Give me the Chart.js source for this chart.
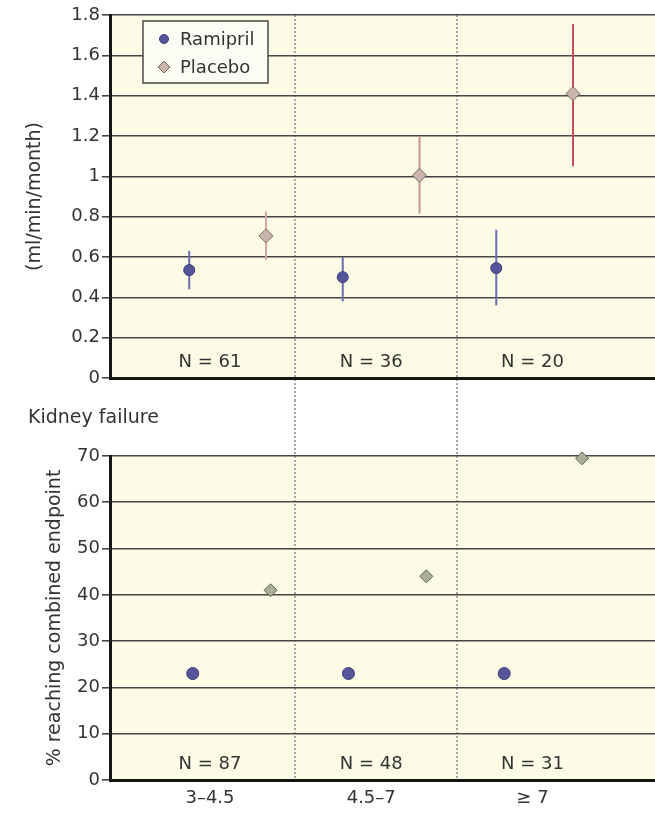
<!DOCTYPE html>
<html>
<head>
<meta charset="utf-8">
<script src="https://cdn.jsdelivr.net/npm/chart.js@4.4.0/dist/chart.umd.min.js"></script>
<style>
  html, body { margin: 0; padding: 0; background: #ffffff; }
  #wrap { position: relative; width: 655px; height: 820px; overflow: hidden; }
  #c1 { position: absolute; left: 0; top: 0; }
  #c2 { position: absolute; left: 0; top: 400px; }
</style>
</head>
<body>
<div id="wrap">
  <canvas id="c1" width="655" height="400"></canvas>
  <canvas id="c2" width="655" height="420"></canvas>
</div>
<script>
// ---------------- data ----------------
const categories = ['3\u20134.5', '4.5\u20137', '\u2265 7'];
const seriesNames = ['Ramipril', 'Placebo'];

const slopeTicks = [0, 0.2, 0.4, 0.6, 0.8, 1, 1.2, 1.4, 1.6, 1.8];
const pctTicks = [0, 10, 20, 30, 40, 50, 60, 70];

// top panel: GFR decline (ml/min/month), mean and error bar limits
const ramiprilSlope = [0.535, 0.50, 0.545];
const ramiprilSlopeLow = [0.44, 0.38, 0.36];
const ramiprilSlopeHigh = [0.63, 0.60, 0.735];
const placeboSlope = [0.705, 1.005, 1.41];
const placeboSlopeLow = [0.585, 0.815, 1.05];
const placeboSlopeHigh = [0.825, 1.195, 1.755];
const slopeN = [61, 36, 20];

// bottom panel: % reaching combined endpoint
const ramiprilPct = [23, 23, 23];
const placeboPct = [41, 44, 69.5];
const pctN = [87, 48, 31];

const titleTop = '(ml/min/month)';
const titleBottom = '% reaching combined endpoint';
const panelLabel = 'Kidney failure';

// category boundaries (between groups) on the category axis
const groupBoundaries = [1.53, 2.53];

// ---------------- styling ----------------
const FONT = 'DejaVu Sans';
Chart.defaults.font.family = FONT;
Chart.defaults.font.size = 18;
Chart.defaults.color = '#333333';

const TEXT = '#333333';
const GRID = '#454545';
const AXIS = '#151515';
const PLOT_BG = '#fbfbe6';

const bgPlugin = {
  id: 'bgPlugin',
  beforeDraw(chart, args, opts) {
    const { ctx, chartArea: a } = chart;
    ctx.save();
    ctx.fillStyle = PLOT_BG;
    ctx.fillRect(a.left, a.top, a.right - a.left, a.bottom - a.top);
    // dotted group dividers
    const xs = chart.scales.x;
    ctx.strokeStyle = '#a8a8a8';
    ctx.lineWidth = 2;
    ctx.setLineDash([2, 2]);
    const y0 = opts.fromTop ? 0 : a.top;
    const y1 = opts.fromTop ? a.bottom : chart.height;
    groupBoundaries.forEach(b => {
      const x = Math.round(xs.getPixelForValue(b));
      ctx.beginPath();
      ctx.moveTo(x, y0);
      ctx.lineTo(x, y1);
      ctx.stroke();
    });
    ctx.restore();
  }
};

const errorBars = {
  id: 'errorBars',
  beforeDatasetsDraw(chart) {
    const ctx = chart.ctx;
    const ys = chart.scales.y;
    chart.data.datasets.forEach(ds => {
      if (!ds.errLow) return;
      const xs = chart.scales[ds.xAxisID];
      ctx.save();
      ctx.lineWidth = 2;
      ds.data.forEach((p, i) => {
        const x = xs.getPixelForValue(p.x);
        ctx.strokeStyle = Array.isArray(ds.errColor) ? ds.errColor[i] : ds.errColor;
        ctx.beginPath();
        ctx.moveTo(x, ys.getPixelForValue(ds.errLow[i]));
        ctx.lineTo(x, ys.getPixelForValue(ds.errHigh[i]));
        ctx.stroke();
      });
      ctx.restore();
    });
  }
};

const nLabels = {
  id: 'nLabels',
  afterDatasetsDraw(chart, args, opts) {
    const ctx = chart.ctx;
    const xs = chart.scales.x;
    ctx.save();
    ctx.fillStyle = TEXT;
    ctx.font = '18px "' + FONT + '"';
    ctx.textAlign = 'center';
    ctx.textBaseline = 'middle';
    opts.values.forEach((n, i) => {
      ctx.fillText('N = ' + n, xs.getPixelForValue(i + 1), chart.chartArea.bottom - 16);
    });
    if (opts.panelLabel) {
      ctx.font = '19px "' + FONT + '"';
      ctx.textAlign = 'left';
      ctx.fillText(opts.panelLabel, 28, 18);
    }
    ctx.restore();
  }
};

function drawMarker(ctx, style, x, y, r, fill, stroke) {
  ctx.save();
  ctx.fillStyle = fill;
  ctx.strokeStyle = stroke;
  ctx.lineWidth = 1;
  ctx.beginPath();
  if (style === 'circle') {
    ctx.arc(x, y, r, 0, Math.PI * 2);
  } else {
    ctx.moveTo(x - r, y);
    ctx.lineTo(x, y - r);
    ctx.lineTo(x + r, y);
    ctx.lineTo(x, y + r);
    ctx.closePath();
  }
  ctx.fill();
  ctx.stroke();
  ctx.restore();
}

const boxLegend = {
  id: 'boxLegend',
  afterDatasetsDraw(chart, args, opts) {
    if (!opts.show) return;
    const ctx = chart.ctx;
    const a = chart.chartArea;
    const left = a.left + 33, top = a.top + 6, w = 125, h = 62;
    ctx.save();
    ctx.fillStyle = '#fcfcf4';
    ctx.fillRect(left, top, w, h);
    ctx.strokeStyle = '#4a4a4a';
    ctx.lineWidth = 1.5;
    ctx.strokeRect(left, top, w, h);
    ctx.font = '18px "' + FONT + '"';
    ctx.fillStyle = TEXT;
    ctx.textAlign = 'left';
    ctx.textBaseline = 'middle';
    chart.data.datasets.forEach((ds, i) => {
      const cy = top + 18 + i * 28;
      drawMarker(ctx, ds.pointStyle, left + 21, cy, ds.pointStyle === 'circle' ? 4.5 : 6,
                 ds.backgroundColor, ds.borderColor);
      ctx.fillStyle = TEXT;
      ctx.fillText(ds.label, left + 37, cy + 1);
    });
    ctx.restore();
  }
};

function yScale(max, ticks, title, titlePad) {
  return {
    type: 'linear',
    min: 0,
    max: max,
    afterBuildTicks: s => { s.ticks = ticks.map(v => ({ value: v })); },
    afterFit: s => { s.width = 110; },
    ticks: { padding: 2, color: TEXT, font: { size: 18 }, callback: v => String(v) },
    grid: { color: GRID, lineWidth: 1.6, tickLength: 8, drawTicks: true },
    border: { color: AXIS, width: 3 },
    title: { display: true, text: title, color: TEXT, font: { size: 19 }, padding: { top: titlePad, bottom: 0 } }
  };
}

function xScale(showLabels, height) {
  return {
    type: 'linear',
    position: 'bottom',
    min: 0.38,
    max: 3.76,
    afterBuildTicks: s => { s.ticks = categories.map((c, i) => ({ value: i + 1 })); },
    afterFit: s => { s.height = height; },
    ticks: {
      display: showLabels, padding: 8, color: TEXT, font: { size: 18 },
      autoSkip: false, maxRotation: 0, minRotation: 0,
      callback: (v, i) => categories[i]
    },
    grid: { display: false, drawTicks: false },
    border: { color: AXIS, width: 3 }
  };
}

function pointsScale(min, max) {
  return { type: 'linear', position: 'bottom', display: false, min: min, max: max };
}

// ---------------- top chart ----------------
new Chart(document.getElementById('c1'), {
  type: 'scatter',
  data: {
    datasets: [
      {
        label: seriesNames[0],
        data: ramiprilSlope.map((v, i) => ({ x: i + 1 - 0.25, y: v })),
        xAxisID: 'xp', clip: false,
        pointStyle: 'circle', pointRadius: 5.5,
        backgroundColor: '#55559c', borderColor: '#3c3c78', borderWidth: 1,
        errLow: ramiprilSlopeLow, errHigh: ramiprilSlopeHigh, errColor: '#6c6cb2'
      },
      {
        label: seriesNames[1],
        data: placeboSlope.map((v, i) => ({ x: i + 1 + 0.25, y: v })),
        xAxisID: 'xp', clip: false,
        pointStyle: 'rectRot', pointRadius: 7,
        backgroundColor: '#c9b5ad', borderColor: '#7d6a62', borderWidth: 1,
        errLow: placeboSlopeLow, errHigh: placeboSlopeHigh,
        errColor: ['#dca2a2', '#c9948e', '#c94c5a']
      }
    ]
  },
  options: {
    responsive: false,
    animation: false,
    events: [],
    layout: { autoPadding: false, padding: { top: 15, left: 0, right: 0, bottom: 0 } },
    scales: {
      x: xScale(false, 22),
      xp: pointsScale(0.234, 3.784),
      y: yScale(1.8, slopeTicks, titleTop, 24)
    },
    plugins: {
      legend: { display: false },
      tooltip: { enabled: false },
      bgPlugin: { fromTop: false },
      nLabels: { values: slopeN },
      boxLegend: { show: true }
    }
  },
  plugins: [bgPlugin, errorBars, nLabels, boxLegend]
});

// ---------------- bottom chart ----------------
new Chart(document.getElementById('c2'), {
  type: 'scatter',
  data: {
    datasets: [
      {
        label: seriesNames[0],
        data: ramiprilPct.map((v, i) => ({ x: i + 1 - 0.25, y: v })),
        xAxisID: 'xp', clip: false,
        pointStyle: 'circle', pointRadius: 6,
        backgroundColor: '#55559c', borderColor: '#3c3c78', borderWidth: 1
      },
      {
        label: seriesNames[1],
        data: placeboPct.map((v, i) => ({ x: i + 1 + 0.25, y: v })),
        xAxisID: 'xp', clip: false,
        pointStyle: 'rectRot', pointRadius: 6.5,
        backgroundColor: '#a9ae95', borderColor: '#62664f', borderWidth: 1
      }
    ]
  },
  options: {
    responsive: false,
    animation: false,
    events: [],
    layout: { autoPadding: false, padding: { top: 56, left: 0, right: 0, bottom: 0 } },
    scales: {
      x: xScale(true, 40),
      xp: pointsScale(0.219, 3.718),
      y: yScale(70, pctTicks, titleBottom, 44)
    },
    plugins: {
      legend: { display: false },
      tooltip: { enabled: false },
      bgPlugin: { fromTop: true },
      nLabels: { values: pctN, panelLabel: panelLabel },
      boxLegend: { show: false }
    }
  },
  plugins: [bgPlugin, errorBars, nLabels, boxLegend]
});
</script>
</body>
</html>
